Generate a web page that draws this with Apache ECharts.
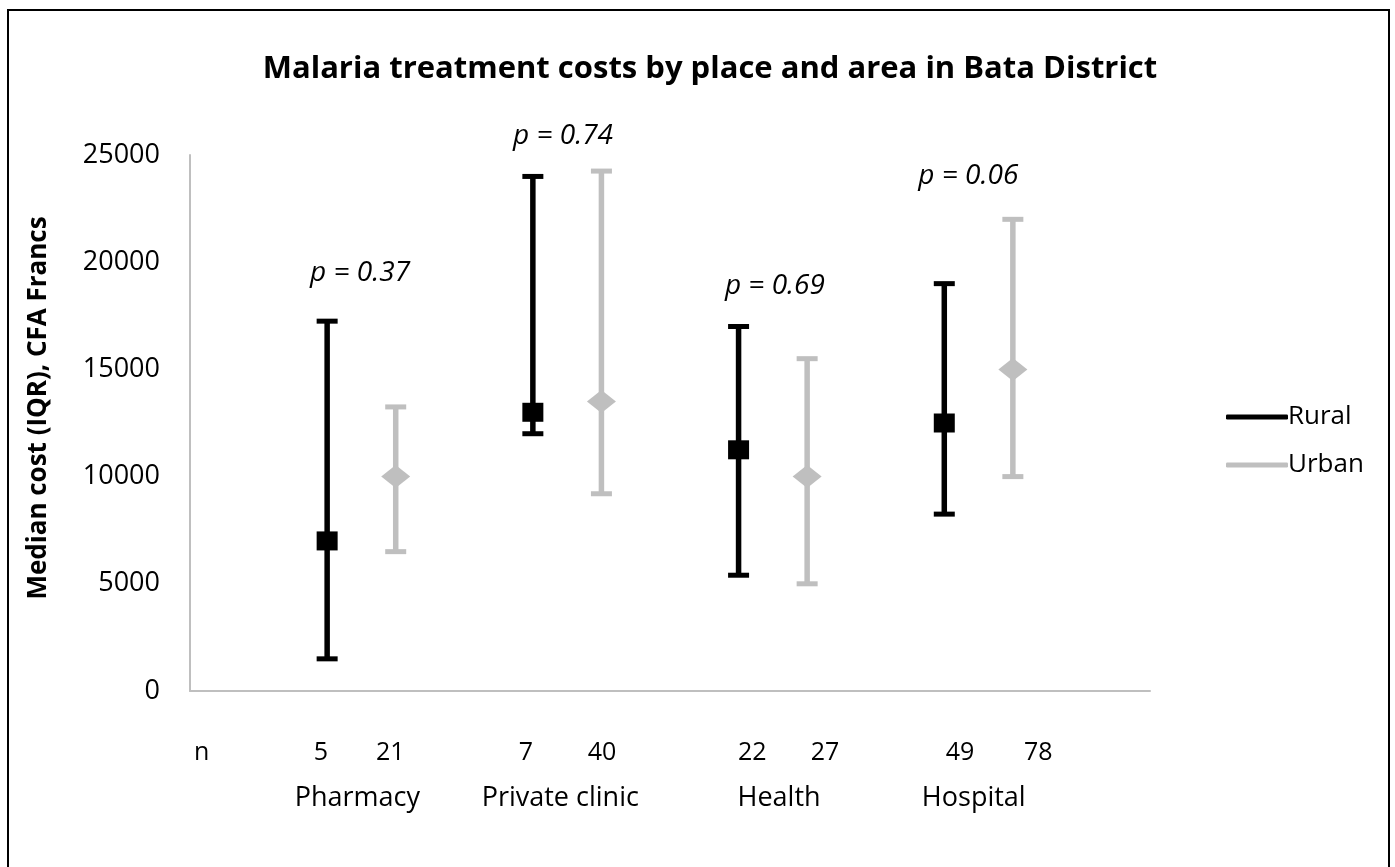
<!DOCTYPE html>
<html>
<head>
<meta charset="utf-8">
<script src="https://cdn.jsdelivr.net/npm/echarts@6/dist/echarts.min.js"></script>
<style>
html,body{margin:0;padding:0;background:#fff;}
#chart{width:1395px;height:867px;}
</style>
</head>
<body>
<div id="chart"></div>
<script>
// ---- data ----
var categories = ['Pharmacy', 'Private clinic', 'Health', 'Hospital'];
var ruralX = [2, 5, 8, 11];
var urbanX = [3, 6, 9, 12];
var ruralMedian = [7000, 13000, 11250, 12500];
var ruralLow    = [1500, 12000, 5400, 8250];
var ruralHigh   = [17250, 24000, 17000, 19000];
var urbanMedian = [10000, 13500, 10000, 15000];
var urbanLow    = [6500, 9200, 5000, 10000];
var urbanHigh   = [13250, 24250, 15500, 22000];
var ruralN = ['5', '7', '22', '49'];
var urbanN = ['21', '40', '27', '78'];
var ruralNLabelX = [1.91, 4.90, 8.20, 11.23];
var urbanNLabelX = [2.92, 6.01, 9.26, 12.37];
var pValues = ['p = 0.37', 'p = 0.74', 'p = 0.69', 'p = 0.06'];
var pValueX = [2.48, 5.44, 8.53, 11.35];
var pValueY = [19500, 25900, 18900, 24000];
var categoryLabelX = [2.44, 5.40, 8.59, 11.43];
var yTicks = {min: 0, max: 25000, interval: 5000};

var RURAL = '#000000', URBAN = '#bfbfbf';
var FONT = '"Open Sans", "Noto Sans", sans-serif';

function barData(xs, med, lo, hi) {
  return xs.map(function (x, i) { return [x, med[i], lo[i], hi[i]]; });
}

function makeRender(color, shape) {
  return function (params, api) {
    var x = api.value(0);
    var pMed = api.coord([x, api.value(1)]);
    var pLo = api.coord([x, api.value(2)]);
    var pHi = api.coord([x, api.value(3)]);
    var cap = 10.5;
    var st = {stroke: color, lineWidth: 5.5};
    var cst = {stroke: color, lineWidth: 5};
    var children = [
      {type: 'line', shape: {x1: pLo[0], y1: pLo[1], x2: pHi[0], y2: pHi[1]}, style: st},
      {type: 'line', shape: {x1: pLo[0] - cap, y1: pLo[1], x2: pLo[0] + cap, y2: pLo[1]}, style: cst},
      {type: 'line', shape: {x1: pHi[0] - cap, y1: pHi[1], x2: pHi[0] + cap, y2: pHi[1]}, style: cst}
    ];
    if (shape === 'square') {
      children.push({type: 'rect', shape: {x: pMed[0] - 10.5, y: pMed[1] - 9.5, width: 21, height: 19}, style: {fill: color}});
    } else {
      var rx = 14.5, ry = 11.5;
      children.push({type: 'polygon', shape: {points: [[pMed[0], pMed[1] - ry], [pMed[0] + rx, pMed[1]], [pMed[0], pMed[1] + ry], [pMed[0] - rx, pMed[1]]]}, style: {fill: color}});
    }
    return {type: 'group', children: children};
  };
}

// annotation rows: n labels, category labels, p-values
var annotData = [];
annotData.push([0.17, 0, 'n', 'n']);
ruralNLabelX.forEach(function (x, i) { annotData.push([x, 0, ruralN[i], 'n']); });
urbanNLabelX.forEach(function (x, i) { annotData.push([x, 0, urbanN[i], 'n']); });
categoryLabelX.forEach(function (x, i) { annotData.push([x, 0, categories[i], 'cat']); });
pValueX.forEach(function (x, i) { annotData.push([x, pValueY[i], pValues[i], 'p']); });

function renderAnnot(params, api) {
  var d = annotData[params.dataIndex];
  var p = api.coord([d[0], d[1]]);
  var y = p[1], font;
  if (d[3] === 'n') { y += 62; font = '25px ' + FONT; }
  else if (d[3] === 'cat') { y += 107; font = '27px ' + FONT; }
  else { font = 'italic 28px ' + FONT; }
  return {type: 'text', x: p[0], y: y, style: {text: d[2], font: font, fill: '#000', align: 'center', verticalAlign: 'middle'}};
}

var chart = echarts.init(document.getElementById('chart'));
chart.setOption({
  backgroundColor: '#fff',
  animation: false,
  title: {
    text: 'Malaria treatment costs by place and area in Bata District',
    left: 705, top: 49, textAlign: 'center',
    textStyle: {fontFamily: FONT, fontWeight: 'bold', fontSize: 31, color: '#000'}
  },
  graphic: [{type: 'rect', shape: {x: 8, y: 10, width: 1381, height: 870}, style: {fill: 'none', stroke: '#000', lineWidth: 2}, silent: true}],
  legend: {
    orient: 'vertical', left: 1221, top: 399, itemGap: 22,
    itemWidth: 62, itemHeight: 5, icon: 'roundRect',
    textStyle: {fontFamily: FONT, fontSize: 26, color: '#000', padding: [0, 0, 0, -5]},
    data: ['Rural', 'Urban']
  },
  grid: {left: 190, right: 245, top: 155, bottom: 176},
  xAxis: {
    type: 'value', min: 0, max: 14,
    axisLine: {show: true, onZero: false, lineStyle: {color: '#bfbfbf', width: 2}},
    axisTick: {show: false}, axisLabel: {show: false}, splitLine: {show: false}
  },
  yAxis: {
    type: 'value', min: yTicks.min, max: yTicks.max, interval: yTicks.interval,
    name: 'Median cost (IQR), CFA Francs', nameLocation: 'middle', nameGap: 138,
    nameTextStyle: {fontFamily: FONT, fontWeight: 'bold', fontSize: 26, color: '#000', padding: [0, 0, 0, 30]},
    axisLine: {show: true, lineStyle: {color: '#bfbfbf', width: 2}},
    axisTick: {show: false}, splitLine: {show: false},
    axisLabel: {fontFamily: FONT, fontSize: 27, color: '#000', margin: 30, formatter: function (v) { return String(v); }}
  },
  series: [
    {name: 'Rural', type: 'custom', itemStyle: {color: RURAL}, renderItem: makeRender(RURAL, 'square'),
     data: barData(ruralX, ruralMedian, ruralLow, ruralHigh), encode: {x: 0, y: [1, 2, 3]}},
    {name: 'Urban', type: 'custom', itemStyle: {color: URBAN}, renderItem: makeRender(URBAN, 'diamond'),
     data: barData(urbanX, urbanMedian, urbanLow, urbanHigh), encode: {x: 0, y: [1, 2, 3]}},
    {name: 'annot', type: 'custom', clip: false, silent: true, renderItem: renderAnnot,
     data: annotData.map(function (d) { return [d[0], d[1]]; }), encode: {x: 0, y: 1}}
  ]
});
</script>
</body>
</html>
